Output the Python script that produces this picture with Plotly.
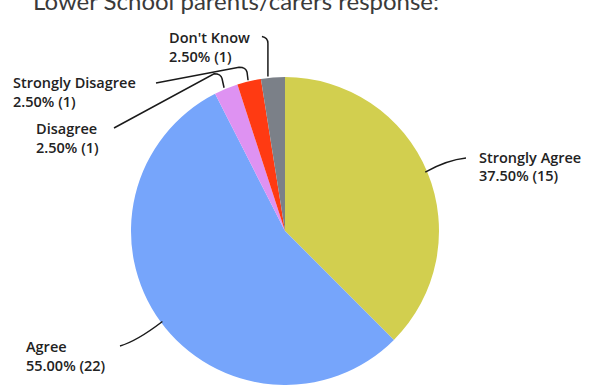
import math
import plotly.graph_objects as go

categories = ["Strongly Agree", "Agree", "Disagree", "Strongly Disagree", "Don't Know"]
counts = [15, 22, 1, 1, 1]
percent_labels = ["37.50%", "55.00%", "2.50%", "2.50%", "2.50%"]
colors = ["#D2CF4F", "#76A5FB", "#DE92F2", "#FF3A12", "#7B8088"]

W, H = 589, 385
CX, CY, R = 285, 231, 154  # pie centre / radius in pixels (layout)


def px(x, y):
    return x / W, 1 - y / H


fig = go.Figure()
fig.add_trace(go.Pie(
    labels=categories, values=counts, sort=False, direction="clockwise",
    rotation=0, textinfo="none", hoverinfo="label+percent+value",
    marker=dict(colors=colors, line=dict(width=0)),
    domain=dict(x=[(CX - R) / W, (CX + R) / W], y=[0, (H - (CY - R)) / H]),
    showlegend=False,
))

# anchor points on the pie edge, from the data
total = sum(counts)
anchors = []
cum = 0
for c in counts:
    mid = (cum + c / 2) / total * 2 * math.pi
    anchors.append((CX + R * math.sin(mid), CY - R * math.cos(mid)))
    cum += c

# label placement (left x, centre y of first line) in pixels
label_pos = {
    "Strongly Agree": (477, 157),
    "Agree": (24, 346),
    "Disagree": (34, 128),
    "Strongly Disagree": (11, 83),
    "Don't Know": (167, 37),
}
LINE_GAP = 19


def P(x, y):
    a, b = px(x, y)
    return f"{a:.5f},{b:.5f}"


paths = []
ax, ay = anchors[0]
paths.append(f"M {P(ax-2, ay)} Q {P(447, 160)} {P(466, 158)}")
ax, ay = anchors[1]
paths.append(f"M {P(ax+2, ay)} Q {P(137, 341)} {P(120, 346)}")
ax, ay = anchors[2]
paths.append(f"M {P(ax-2, ay-1)} L {P(ax-4, ay-10)} Q {P(ax-5, ay-15)} {P(ax-12, ay-15)} L {P(114, 128)}")
ax, ay = anchors[3]
paths.append(f"M {P(ax-1, ay-1)} L {P(ax-2, ay-9)} Q {P(ax-3, ay-14)} {P(ax-10, ay-14)} L {P(156, 83)}")
ax, ay = anchors[4]
paths.append(f"M {P(ax-5, ay-1)} L {P(ax-5, ay-34)} Q {P(ax-5, ay-40)} {P(ax-11, ay-41)}")

shapes = [dict(type="path", xref="paper", yref="paper", path=p,
               line=dict(color="#1a1a1a", width=1.5)) for p in paths]

label_font = dict(family="Open Sans", size=14.5, color="#222222", weight=600)
annotations = []
for cat, cnt, pct in zip(categories, counts, percent_labels):
    x, y = label_pos[cat]
    for i, line in enumerate([cat, f"{pct} ({cnt})"]):
        ex, ey = px(x, y + i * LINE_GAP)
        annotations.append(dict(
            x=ex, y=ey, xref="paper", yref="paper", xanchor="left", yanchor="middle",
            align="left", showarrow=False, text=line, font=label_font,
        ))

# title (mostly cropped off at the top, as in the source)
annotations.append(dict(
    x=31 / W, y=1, xref="paper", yref="paper", xanchor="left", yanchor="top",
    yshift=16, showarrow=False, text="Lower School parents/carers response:",
    font=dict(family="Lato", size=24, color="#3a3a3a"),
))

fig.update_layout(
    width=W, height=H, margin=dict(l=0, r=0, t=0, b=0),
    paper_bgcolor="white", plot_bgcolor="white",
    shapes=shapes, annotations=annotations,
)

fig.write_html("out.html", config={"displayModeBar": False},
               post_script="document.body.style.margin='0';")
